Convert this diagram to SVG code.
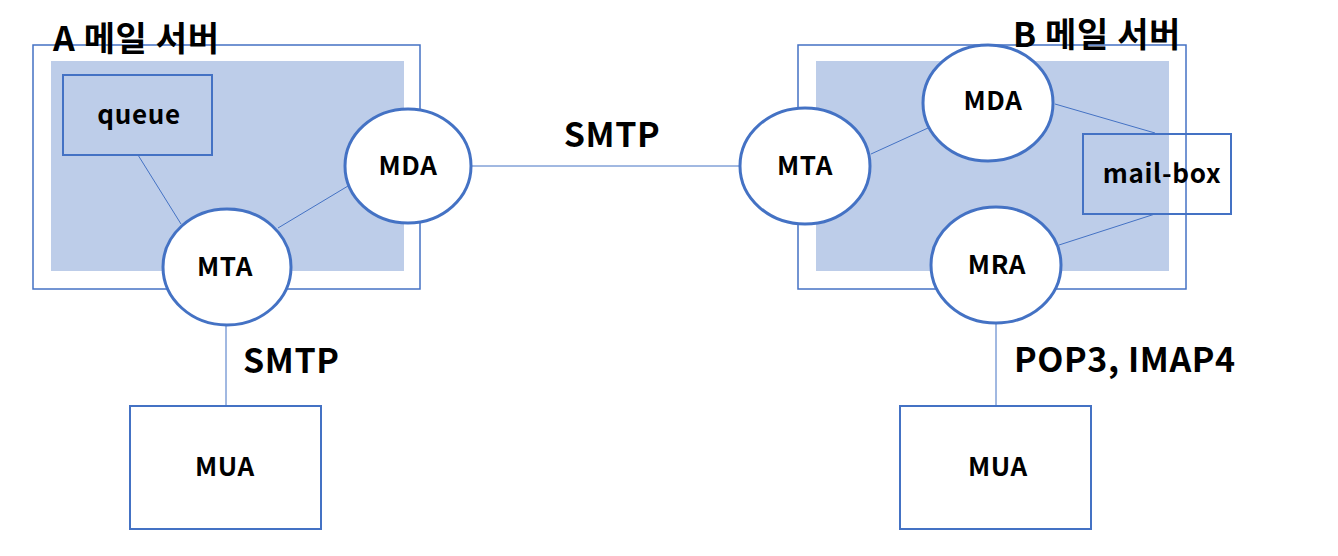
<svg xmlns="http://www.w3.org/2000/svg" width="1338" height="556" viewBox="0 0 1338 556">
<style>
.bg{fill:#ffffff}
.outer{fill:none;stroke:#4472C4;stroke-width:1.5}
.inner{fill:#BDCDE9;stroke:none}
.box{fill:none;stroke:#4472C4;stroke-width:2}
.wbox{fill:#ffffff;stroke:#4472C4;stroke-width:2}
.ell{fill:#ffffff;stroke:#4472C4;stroke-width:3}
.ln{stroke:#4472C4;stroke-width:1;fill:none}
text{font-family:"Noto Sans CJK KR","Noto Sans",sans-serif;font-weight:bold;fill:#000000}
.lbl{font-size:26px;text-anchor:middle;letter-spacing:0.7px}
.big{font-size:34px;letter-spacing:0.6px}
</style>
<rect class="bg" x="0" y="0" width="1338" height="556"/>
<g id="serverA">
<rect class="outer" x="33" y="45" width="387" height="244"/>
<rect class="inner" x="51" y="61" width="353" height="210"/>
<text class="big" x="53" y="51">A 메일 서버</text>
</g>
<g id="serverB">
<rect class="outer" x="798" y="45" width="388" height="244"/>
<rect class="inner" x="816" y="61" width="353" height="210"/>
<text class="big" x="1013" y="47">B 메일 서버</text>
</g>
<g id="connectors">
<line class="ln" x1="138" y1="155" x2="181" y2="224"/>
<line class="ln" x1="278" y1="228" x2="353" y2="183"/>
<line class="ln" x1="471" y1="166" x2="740" y2="166"/>
<line class="ln" x1="226" y1="325" x2="226" y2="406"/>
<line class="ln" x1="871" y1="154" x2="928" y2="128"/>
<line class="ln" x1="1055" y1="104" x2="1155" y2="133"/>
<line class="ln" x1="1059" y1="245" x2="1155" y2="214"/>
<line class="ln" x1="996" y1="322" x2="996" y2="406"/>
</g>
<g id="labels">
<text class="big" x="612" y="147" text-anchor="middle">SMTP</text>
<text class="big" x="243" y="373">SMTP</text>
<text class="big" x="1014" y="372">POP3, IMAP4</text>
</g>
<g id="queue">
<rect class="box" x="63" y="75" width="149" height="80"/>
<text class="lbl" x="139" y="124">queue</text>
</g>
<g id="mdaA">
<ellipse class="ell" cx="408" cy="166" rx="63" ry="57"/>
<text class="lbl" x="408" y="175">MDA</text>
</g>
<g id="mtaA">
<ellipse class="ell" cx="227" cy="267" rx="64" ry="58"/>
<text class="lbl" x="225" y="276">MTA</text>
</g>
<g id="mtaB">
<ellipse class="ell" cx="805" cy="166" rx="65" ry="58"/>
<text class="lbl" x="805" y="175">MTA</text>
</g>
<g id="mdaB">
<ellipse class="ell" cx="988" cy="103" rx="65" ry="58"/>
<text class="lbl" x="993" y="110">MDA</text>
</g>
<g id="mraB">
<ellipse class="ell" cx="996" cy="265" rx="65" ry="58"/>
<text class="lbl" x="997" y="274">MRA</text>
</g>
<g id="mailbox">
<rect class="box" x="1083" y="134" width="148" height="80"/>
<text class="lbl" x="1162" y="183">mail-box</text>
</g>
<g id="muaA">
<rect class="wbox" x="130" y="406" width="191" height="123"/>
<text class="lbl" x="225" y="476">MUA</text>
</g>
<g id="muaB">
<rect class="wbox" x="900" y="406" width="191" height="123"/>
<text class="lbl" x="998" y="476">MUA</text>
</g>
</svg>
